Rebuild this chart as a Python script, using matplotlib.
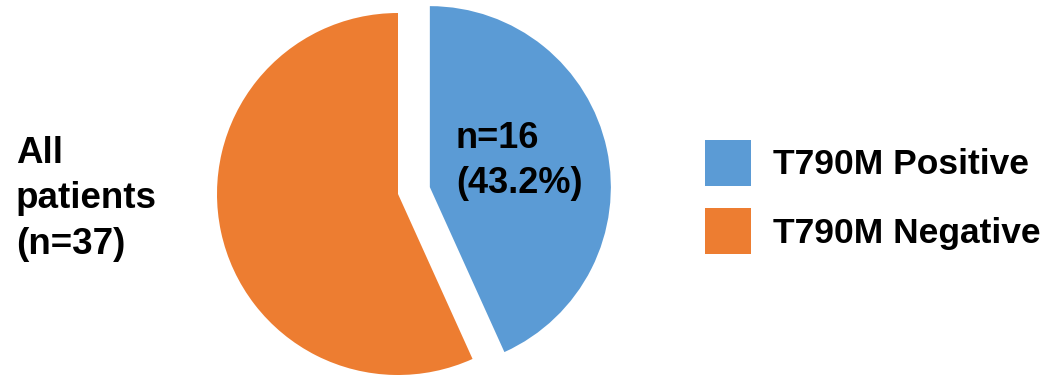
import matplotlib
matplotlib.use("Agg")
import matplotlib.pyplot as plt

plt.rcParams['font.family'] = ['Liberation Sans', 'DejaVu Sans']
plt.rcParams['font.weight'] = 'bold'

# data
labels = ['T790M Positive', 'T790M Negative']
counts = [16, 21]
colors = ['#5B9BD5', '#ED7D31']
total = sum(counts)

W, H = 1058, 375
fig = plt.figure(figsize=(W / 100, H / 100), dpi=100)
ax = fig.add_axes([0, 0, 1, 1])

# pie geometry in pixels
r_px = 181
cx, cy = 398, H - 194

wedges, _ = ax.pie(counts, colors=colors, startangle=90, counterclock=False,
                   explode=[0.18, 0], radius=1,
                   wedgeprops={'linewidth': 0})

ax.set_aspect('auto')
ax.set_xlim(-cx / r_px, (W - cx) / r_px)
ax.set_ylim(-cy / r_px, (H - cy) / r_px)
ax.axis('off')

pct = counts[0] / total * 100
fig.text(456 / W, 1 - 161 / H, f'n={counts[0]}\n({pct:.1f}%)', fontsize=26,
         fontweight='bold', ha='left', va='center', linespacing=1.37)

fig.text(16 / W, 1 - 199 / H, f'All\npatients\n(n={total})', fontsize=26.5,
         fontweight='bold', ha='left', va='center', linespacing=1.38)

leg = ax.legend(wedges, labels, loc='center left',
                bbox_to_anchor=(705 / W, 1 - 197 / H), bbox_transform=fig.transFigure,
                frameon=False, fontsize=25.5, handlelength=1.3, handleheight=1.62,
                handletextpad=0.62, labelspacing=0.64, borderpad=0, borderaxespad=0)
for t in leg.get_texts():
    t.set_fontweight('bold')

fig.savefig('out.png', dpi=100, facecolor='white')
